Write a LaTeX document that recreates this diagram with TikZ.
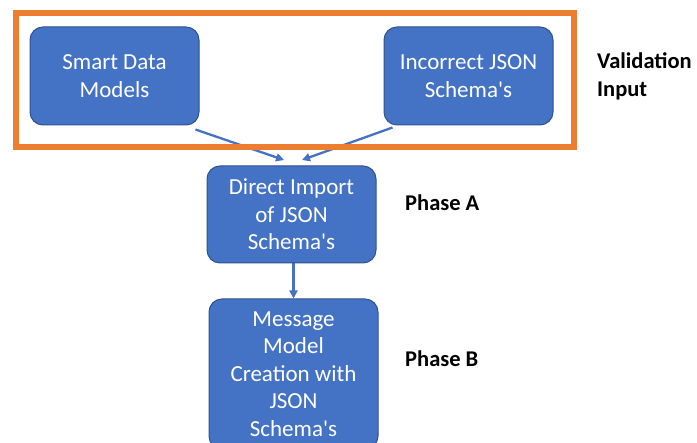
\documentclass[tikz,border=0pt]{standalone}
\usepackage{fontspec}
\setmainfont{Carlito}[Ligatures=TeXOff]
\usetikzlibrary{arrows.meta,calc,backgrounds}
\definecolor{boxfill}{HTML}{4472C4}
\definecolor{boxline}{HTML}{2F528F}
\definecolor{frameorange}{HTML}{ED7D31}
\tikzset{
  stepbox/.style={draw=boxline, line width=1pt, fill=boxfill, rounded corners=13pt,
    text=white, font=\fontsize{23}{27.5}\selectfont, align=center,
    inner sep=0pt, minimum width=169pt},
  flow/.style={draw=boxfill, line width=2.3pt, -{Triangle[length=8pt,width=8pt]}},
  phase/.style={font=\fontsize{22.5}{28}\selectfont\bfseries, align=left, anchor=west, inner sep=0pt},
}
\begin{document}
\begin{tikzpicture}[x=1pt,y=-1pt]
  \useasboundingbox (0,0) rectangle (697,443);
  \clip (0,0) rectangle (697,443);

  % validation input frame
  \draw[frameorange, line width=6pt] (16,13) rectangle (574,147);

  % process boxes
  \node[stepbox, minimum height=98pt] (b1) at (114.5,76) {Smart Data\\Models};
  \node[stepbox, minimum height=98pt] (b2) at (468.5,76) {Incorrect JSON\\Schema's};
  \node[stepbox, minimum height=97pt] (b3) at (291.5,214.5) {Direct Import\\of JSON\\Schema's};
  \node[stepbox, minimum height=150pt] (b4) at (293.5,374) {Message\\Model\\Creation with\\JSON\\Schema's};

  % labels
  \node[phase] (lv) at (597,76) {Validation\\Input};
  \node[phase] (la) at (405,203) {Phase A};
  \node[phase] (lb) at (405,359) {Phase B};

  % connectors
  \coordinate (ta) at (284,160);
  \coordinate (tb) at (302,160);
  \begin{pgfonlayer}{background}
    \draw[flow] ($(b1.south east)+(-4,4)$) -- (ta);
    \draw[flow] ($(b2.south west)+(9,2)$) -- (tb);
    \draw[flow] (b3.south -| b4.north) -- (b4.north);
  \end{pgfonlayer}
\end{tikzpicture}
\end{document}
